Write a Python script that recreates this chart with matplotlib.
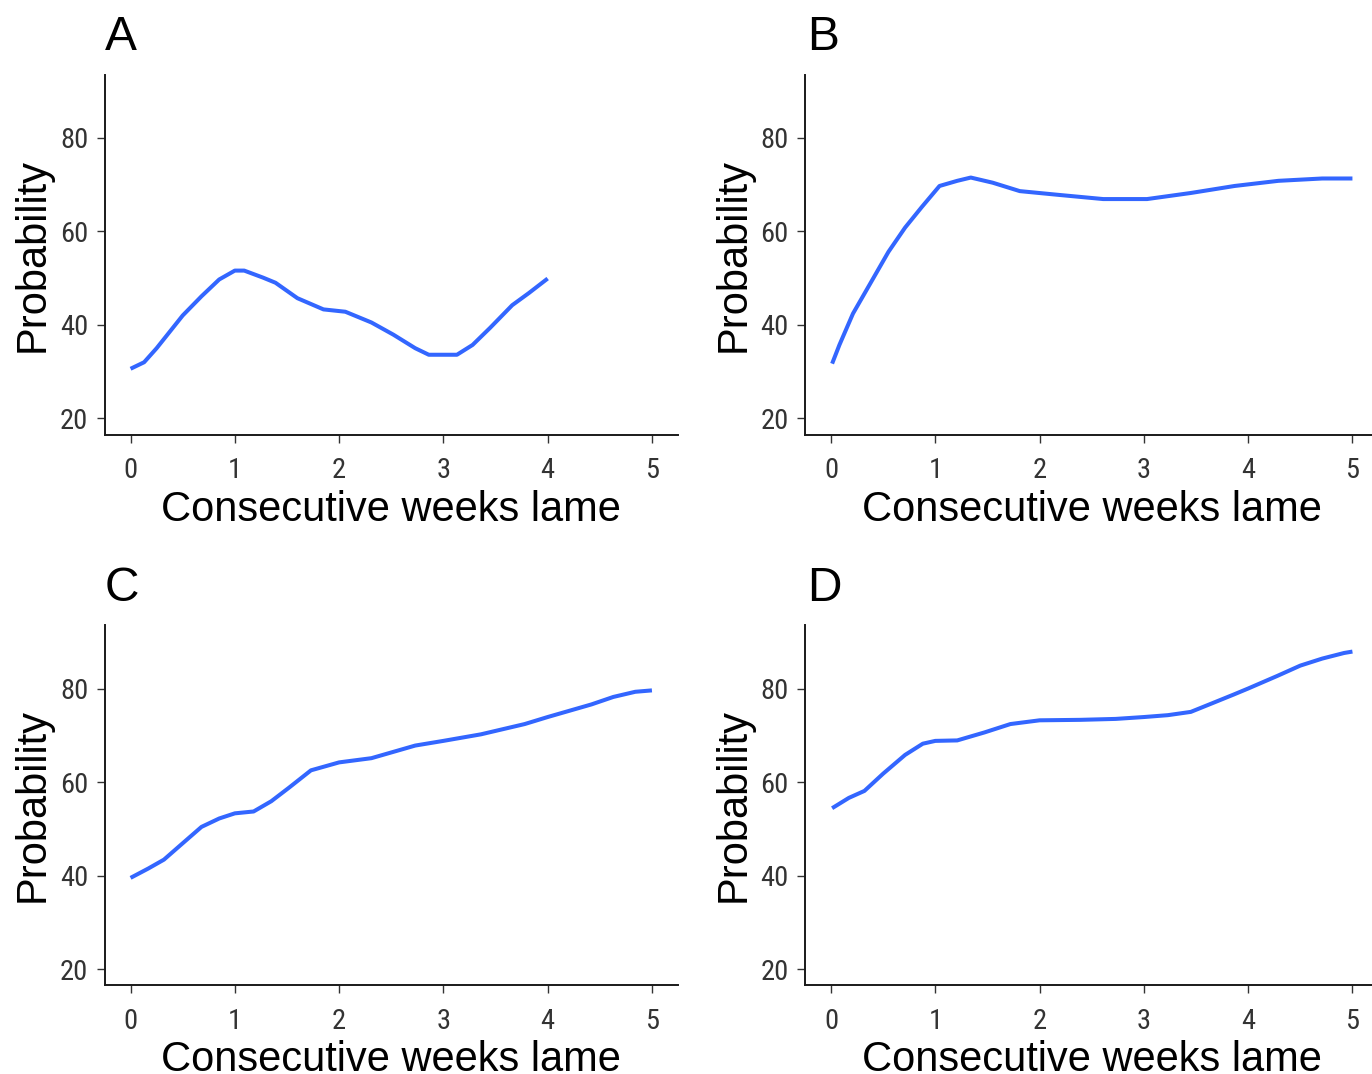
import matplotlib
matplotlib.use("Agg")
import matplotlib.pyplot as plt
from matplotlib import font_manager

# ---- data ----
weeks_A = [0.0, 0.13, 0.25, 0.5, 0.68, 0.85, 1.0, 1.09, 1.27, 1.39, 1.6, 1.85, 2.06, 2.31, 2.52, 2.73, 2.86, 3.13, 3.28, 3.45, 3.66, 3.82, 4.0]
prob_A = [30.6, 32.0, 35.0, 42.0, 46.1, 49.7, 51.6, 51.6, 50.1, 49.0, 45.7, 43.3, 42.8, 40.5, 37.9, 35.0, 33.6, 33.6, 35.7, 39.4, 44.2, 46.8, 49.9]

weeks_B = [0.01, 0.08, 0.21, 0.38, 0.55, 0.71, 0.87, 1.04, 1.21, 1.34, 1.55, 1.81, 2.18, 2.61, 3.03, 3.45, 3.87, 4.29, 4.71, 5.0]
prob_B = [31.7, 35.7, 42.4, 49.0, 55.6, 60.8, 65.2, 69.7, 70.8, 71.5, 70.4, 68.6, 67.8, 66.9, 66.9, 68.2, 69.7, 70.8, 71.3, 71.3]

weeks_C = [0.0, 0.17, 0.32, 0.51, 0.68, 0.85, 1.0, 1.18, 1.35, 1.52, 1.73, 2.0, 2.31, 2.73, 3.0, 3.36, 3.78, 4.0, 4.42, 4.63, 4.84, 5.0]
prob_C = [39.5, 41.5, 43.4, 47.1, 50.4, 52.2, 53.3, 53.7, 55.9, 58.8, 62.5, 64.2, 65.1, 67.8, 68.8, 70.2, 72.4, 73.9, 76.6, 78.2, 79.3, 79.6]

weeks_D = [0.01, 0.17, 0.32, 0.5, 0.71, 0.88, 1.0, 1.21, 1.47, 1.72, 2.0, 2.39, 2.73, 3.0, 3.23, 3.45, 3.65, 3.86, 4.0, 4.28, 4.5, 4.71, 4.92, 5.0]
prob_D = [54.4, 56.6, 58.1, 61.8, 65.8, 68.2, 68.8, 68.9, 70.6, 72.4, 73.2, 73.3, 73.5, 73.9, 74.3, 75.0, 76.8, 78.7, 80.0, 82.7, 84.9, 86.4, 87.6, 87.9]

panel_letters = ["A", "B", "C", "D"]
x_ticks = [0, 1, 2, 3, 4, 5]
y_ticks = [20, 40, 60, 80]
x_title = "Consecutive weeks lame"
y_title = "Probability"

# ---- fonts ----
avail = {f.name for f in font_manager.fontManager.ttflist}
main_font = "Liberation Sans" if "Liberation Sans" in avail else "DejaVu Sans"
tick_font = main_font
for cand in ["Liberation Sans Narrow", "Arial Narrow", "Roboto Condensed"]:
    if cand in avail:
        tick_font = cand
        break
plt.rcParams["font.family"] = [main_font, "DejaVu Sans"]

W, H = 1372, 1074
fig = plt.figure(figsize=(W / 100, H / 100), dpi=100)
fig.patch.set_facecolor("white")

ax_w = 573.5 / W
ax_h = 360 / H
lefts = [104.5 / W, 805 / W, 104.5 / W, 805 / W]
bottoms = [1 - 434.7 / H, 1 - 434.7 / H, 1 - 985.4 / H, 1 - 985.4 / H]
letter_base = [1 - 50 / H, 1 - 50 / H, 1 - 601 / H, 1 - 601 / H]
letter_x = [105 / W, 807 / W, 105 / W, 807 / W]

series = [(weeks_A, prob_A), (weeks_B, prob_B), (weeks_C, prob_C), (weeks_D, prob_D)]

for i, (xs, ys) in enumerate(series):
    ax = fig.add_axes([lefts[i], bottoms[i], ax_w, ax_h])
    ax.plot(xs, ys, color="#3366FF", lw=2.9, solid_capstyle="butt", solid_joinstyle="round")
    ax.set_xlim(-0.25, 5.25)
    ax.set_ylim(16.5, 93.5)
    ax.set_xticks(x_ticks)
    ax.set_yticks(y_ticks)
    for s in ["top", "right"]:
        ax.spines[s].set_visible(False)
    for s in ["left", "bottom"]:
        ax.spines[s].set_color("#1a1a1a")
        ax.spines[s].set_linewidth(1.4)
    ax.tick_params(axis="both", direction="out", length=5.5, width=1.0, color="#333333",
                   labelcolor="#333333", labelsize=20.5)
    ax.tick_params(axis="x", pad=10.5)
    ax.tick_params(axis="y", pad=6.2)
    for lab in ax.get_xticklabels() + ax.get_yticklabels():
        lab.set_fontfamily([tick_font, "DejaVu Sans"])
    ax.set_xlabel(x_title, fontsize=30, color="black")
    ax.set_ylabel(y_title, fontsize=30, color="black")
    ax.xaxis.set_label_coords(0.5, -0.153)
    ax.yaxis.set_label_coords(-0.09, 0.5)
    fig.text(letter_x[i], letter_base[i], panel_letters[i], fontsize=34.5, color="black",
             ha="left", va="baseline")

fig.savefig("out.png", dpi=100, facecolor="white")
